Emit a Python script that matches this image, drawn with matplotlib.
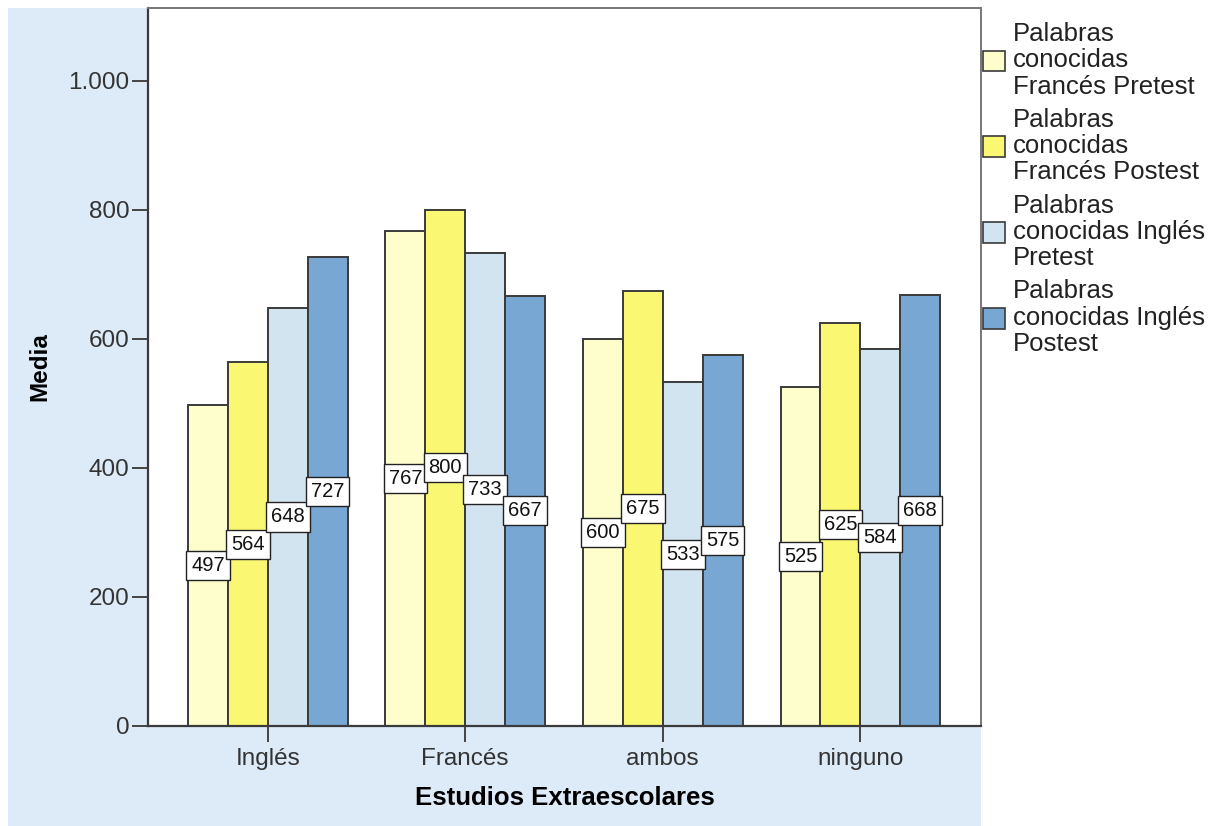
import matplotlib
matplotlib.use("Agg")
import matplotlib.pyplot as plt
from matplotlib.patches import Rectangle, Patch
import numpy as np

plt.rcParams['font.family'] = ['Liberation Sans', 'DejaVu Sans']

categories = ["Inglés", "Francés", "ambos", "ninguno"]
series_names = [
    "Palabras\nconocidas\nFrancés Pretest",
    "Palabras\nconocidas\nFrancés Postest",
    "Palabras\nconocidas Inglés\nPretest",
    "Palabras\nconocidas Inglés\nPostest",
]
fr_pre = [497, 767, 600, 525]
fr_post = [564, 800, 675, 625]
en_pre = [648, 733, 533, 584]
en_post = [727, 667, 575, 668]
colors = ["#FEFECC", "#FAF873", "#D3E4F1", "#78A7D4"]

W, H = 1218, 826
fig = plt.figure(figsize=(W / 100, H / 100), dpi=100)

# light blue panel behind the plot area
fig.patches.append(Rectangle((8 / W, 0), (981 - 8) / W, (H - 8) / H,
                             transform=fig.transFigure, facecolor="#DDEAF8",
                             edgecolor="none", zorder=-10))

ax = fig.add_axes([148 / W, (H - 726) / H, (981 - 148) / W, (726 - 8) / H])
ax.set_facecolor("white")

x = np.arange(len(categories))
width = 0.202
all_series = [fr_pre, fr_post, en_pre, en_post]
for i, (vals, col) in enumerate(zip(all_series, colors)):
    pos = x + (i - 1.5) * width
    ax.bar(pos, vals, width=width, color=col, edgecolor="#3a3a3a", linewidth=1.4, zorder=2)
    for p, v in zip(pos, vals):
        ax.text(p, v / 2, f"{v}", ha="center", va="center", fontsize=14.5, color="#111111",
                zorder=4,
                bbox=dict(boxstyle="square,pad=0.25", facecolor="white",
                          edgecolor="#222222", linewidth=1.0))

ax.set_xlim(-0.606, 3.611)
ax.set_ylim(0, 1113)
ax.set_yticks([0, 200, 400, 600, 800, 1000])
ax.set_yticklabels(["0", "200", "400", "600", "800", "1.000"])
ax.set_xticks(x)
ax.set_xticklabels(categories)
ax.tick_params(axis="both", direction="out", length=11.5, width=1.4, color="#444444",
               labelsize=17.5, labelcolor="#333333")
ax.tick_params(axis="y", pad=2)
ax.tick_params(axis="x", pad=4)

for s in ["left", "bottom"]:
    ax.spines[s].set_color("#3a3a3a")
    ax.spines[s].set_linewidth(1.6)
for s in ["top", "right"]:
    ax.spines[s].set_color("#777777")
    ax.spines[s].set_linewidth(1.4)

ax.set_ylabel("Media", fontsize=17.5, fontweight="bold", labelpad=12)
ax.set_xlabel("Estudios Extraescolares", fontsize=18.5, fontweight="bold", labelpad=12)

handles = [Patch(facecolor=c, edgecolor="#3a3a3a", linewidth=1.2) for c in colors]
leg = fig.legend(handles, series_names, loc="upper left", bbox_to_anchor=(983 / W, 1 - 22 / H),
                 frameon=False, fontsize=18.5, handlelength=0.86, handleheight=0.86,
                 handletextpad=0.3, labelspacing=0.36, borderaxespad=0, borderpad=0,
                 labelcolor="#222222")
for t in leg.get_texts():
    t.set_linespacing(1.12)

fig.savefig("out.png", dpi=100)
